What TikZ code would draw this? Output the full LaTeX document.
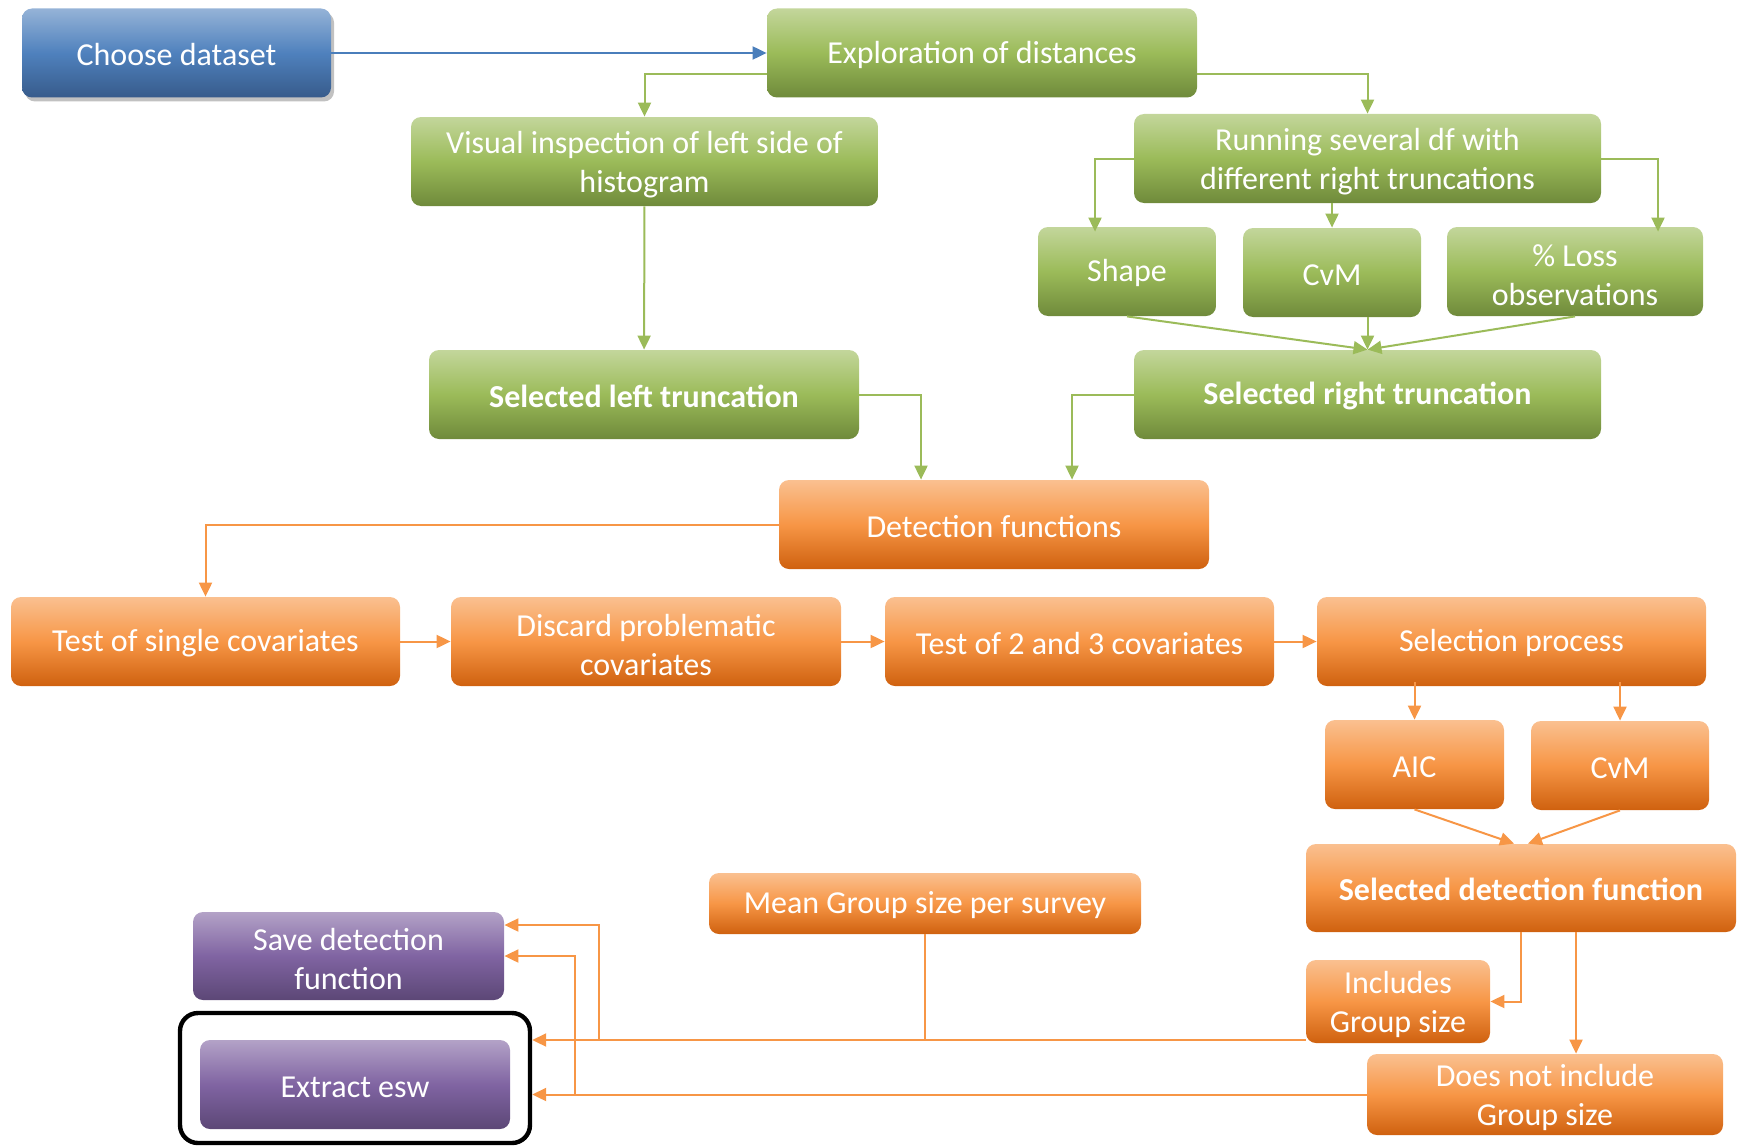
\documentclass[tikz,border=0pt]{standalone}
\usepackage{fontspec}
\setmainfont{Carlito}
\usetikzlibrary{arrows.meta, positioning, shadows}

\definecolor{blueTop}{HTML}{95B3D7}
\definecolor{blueMid}{HTML}{4F81BD}
\definecolor{blueBot}{HTML}{375B8B}
\definecolor{greenTop}{HTML}{C3D69B}
\definecolor{greenMid}{HTML}{9BBB59}
\definecolor{greenBot}{HTML}{6F8A3B}
\definecolor{orangeTop}{HTML}{FAC090}
\definecolor{orangeMid}{HTML}{F79646}
\definecolor{orangeBot}{HTML}{CF610F}
\definecolor{purpleTop}{HTML}{B3A2C7}
\definecolor{purpleMid}{HTML}{8064A2}
\definecolor{purpleBot}{HTML}{5C4776}
\definecolor{blueLn}{HTML}{4A7EBB}
\definecolor{greenLn}{HTML}{9BBB59}
\definecolor{orangeLn}{HTML}{F79646}

% strut that lowers the first line a little
\newcommand{\boxstrut}{\rule{0pt}{14.5pt}}

\begin{document}
\begin{tikzpicture}[
    x=0.5pt, y=-0.5pt,
    >={Triangle[length=7pt, width=6.5pt]},
    box/.style={rounded corners=5pt, minimum height=44.5pt, inner sep=0pt,
                align=center, text=white,
                font=\fontsize{16}{19.5}\selectfont,
                execute at begin node={\rule{0pt}{13pt}}},
    bluebox/.style={box, top color=blueTop, bottom color=blueBot, middle color=blueMid,
                    drop shadow={shadow xshift=1.5pt, shadow yshift=-2pt,
                                 opacity=0.35, fill=black!70}},
    greenbox/.style={box, top color=greenTop, bottom color=greenBot, middle color=greenMid},
    orangebox/.style={box, top color=orangeTop, bottom color=orangeBot, middle color=orangeMid},
    purplebox/.style={box, top color=purpleTop, bottom color=purpleBot, middle color=purpleMid},
    boldtext/.style={font=\fontsize{16}{19.5}\selectfont\bfseries},
    bluearrow/.style={->, draw=blueLn, line width=1pt},
    greenarrow/.style={->, draw=greenLn, line width=1pt},
    orangearrow/.style={->, draw=orangeLn, line width=1pt},
    orangeline/.style={draw=orangeLn, line width=0.6pt}
  ]
  \useasboundingbox (0,0) rectangle (1743,1145);

  % data exploration
  \node[bluebox, minimum width=154.5pt] (choose) at (176.5,53) {Choose dataset};
  \node[greenbox, minimum width=215pt] (explore) at (982,53) {Exploration of distances};
  \node[greenbox, minimum width=233.5pt] (visual) at (644.5,161.5)
    {\boxstrut Visual inspection of left side of\\histogram};
  \node[greenbox, minimum width=233.5pt] (running) at (1367.5,158.5)
    {\boxstrut Running several df with\\different right truncations};
  \node[greenbox, minimum width=89pt] (shape) at (1127,271.5) {Shape};
  \node[greenbox, minimum width=89pt] (cvmg) at (1332,272.5) {CvM};
  \node[greenbox, minimum width=128pt] (loss) at (1575,271.5)
    {\boxstrut\% Loss\\observations};
  \node[greenbox, boldtext, minimum width=215pt] (selleft) at (644,394.5)
    {Selected left truncation};
  \node[greenbox, boldtext, minimum width=233.5pt] (selright) at (1367.5,394.5)
    {Selected right truncation};

  % detection functions
  \node[orangebox, minimum width=215pt] (detect) at (994,524.5) {Detection functions};
  \node[orangebox, minimum width=194.5pt] (single) at (205.5,641.5)
    {Test of single covariates};
  \node[orangebox, minimum width=195pt] (discard) at (646,641.5)
    {\boxstrut Discard problematic\\covariates};
  \node[orangebox, minimum width=194.5pt] (twothree) at (1079.5,641.5)
    {Test of 2 and 3 covariates};
  \node[orangebox, minimum width=194.5pt] (selproc) at (1511.5,641.5) {Selection process};
  \node[orangebox, minimum width=89.5pt] (aic) at (1414.5,764.5) {AIC};
  \node[orangebox, minimum width=89pt] (cvmo) at (1620,765.5) {CvM};
  \node[orangebox, boldtext, minimum width=215pt, minimum height=44pt] (seldet)
    at (1521,888) {Selected detection function};
  \node[orangebox, minimum width=216pt, minimum height=30.5pt] (mean) at (925,903.5)
    {Mean Group size per survey};
  \node[orangebox, minimum width=92pt, minimum height=41.5pt] (incl) at (1398,1001.5)
    {\boxstrut Includes\\Group size};
  \node[orangebox, minimum width=178pt, minimum height=40.5pt] (notincl) at (1545,1094.5)
    {\boxstrut Does not include\\Group size};

  % output
  \node[purplebox, minimum width=155.5pt, minimum height=44pt] (save) at (348.5,956)
    {\boxstrut Save detection\\function};
  \node[draw=black, line width=2.2pt, rounded corners=9pt,
        minimum width=175pt, minimum height=65pt] (frame) at (355,1078) {};
  \node[purplebox, minimum width=155pt] (extract) at (355,1084.5) {Extract esw};

  \coordinate (upjoin) at (599,1040);
  \coordinate (lowjoin) at (575,1094.5);
  \coordinate (meanjoin) at (925,1040);

  % connectors
  \draw[bluearrow] (choose) -- (explore);
  \draw[greenarrow] ([yshift=-10.75pt]explore.west) -| (visual.north);
  \draw[greenarrow] ([yshift=-10.75pt]explore.east) -| (running.north);
  \draw[greenarrow] (running.west) -| ([xshift=-16pt, yshift=-2.5pt]shape.north);
  \draw[greenarrow] (running.south -| cvmg.north) -- (cvmg.north);
  \draw[greenarrow] (running.east) -| ([xshift=41.5pt, yshift=-2.5pt]loss.north);
  \draw[greenarrow] (shape.south) -- (selright.north);
  \draw[greenarrow] (cvmg.south -| selright.north) -- (selright.north);
  \draw[greenarrow] (loss.south) -- (selright.north);
  \draw[greenarrow] (visual) -- (selleft);
  \draw[greenarrow] (selleft.east) -| ([xshift=-36.5pt]detect.north);
  \draw[greenarrow] (selright.west) -| ([xshift=39pt]detect.north);

  \draw[orangearrow] (detect.west) -| (single.north);
  \draw[orangearrow] (single) -- (discard);
  \draw[orangearrow] (discard) -- (twothree);
  \draw[orangearrow] (twothree) -- (selproc);
  \draw[orangearrow] ([yshift=2pt]selproc.south -| aic.north) -- (aic.north);
  \draw[orangearrow] ([yshift=2pt]selproc.south -| cvmo.north) -- (cvmo.north);
  \draw[orangearrow] (aic.south) -- ([xshift=-3.5pt]seldet.north);
  \draw[orangearrow] (cvmo.south) -- ([xshift=3.5pt]seldet.north);
  \draw[orangearrow] (seldet.south) |- (incl.east);
  \draw[orangearrow] ([xshift=27.5pt]seldet.south) -- ([xshift=27.5pt]seldet.south |- notincl.north);
  \draw[orangearrow] ([yshift=-19.25pt]incl.west) -- (frame.east |- upjoin);
  \draw[orangeline] (mean.south) -- (meanjoin);
  \draw[orangearrow] (upjoin) |- ([yshift=15.5pt]save.east);
  \draw[orangearrow] (notincl.west) -- (frame.east |- notincl.west);
  \draw[orangearrow] (lowjoin) |- (save.east);
\end{tikzpicture}
\end{document}
